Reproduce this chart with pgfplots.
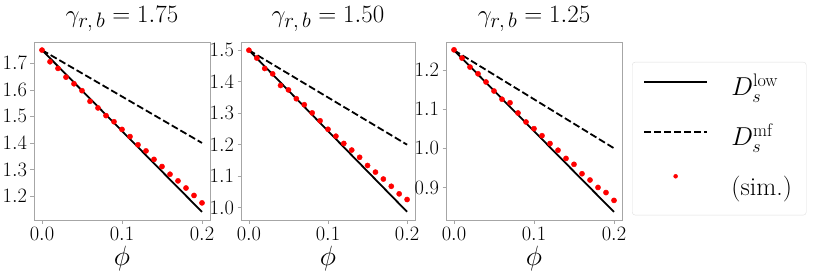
\RequirePackage{fix-cm}
\documentclass[border=0pt]{standalone}
\usepackage{pgfplots}
\pgfplotsset{compat=1.18}
\newcommand{\gam}{\gamma_{\hbox{\fontsize{21}{21}\selectfont$r,b$}}}
\begin{document}
\begin{tikzpicture}
\pgfplotsset{
  panel/.style={
    scale only axis,
    anchor=south west,
    height=178bp,
    xmin=-0.01, xmax=0.21,
    xtick={0,0.1,0.2},
    axis line style={gray!70},
    tick style={gray!70, line width=0.6bp},
    tick align=outside,
    major tick length=3.5bp,
    xtick pos=bottom, ytick pos=left,
    tick label style={font=\fontsize{20.5}{22}\selectfont},
    xticklabel style={/pgf/number format/.cd, fixed, fixed zerofill, precision=1},
    yticklabel style={/pgf/number format/.cd, fixed, fixed zerofill, precision=1},
    xlabel={$\phi$},
    xlabel style={font=\fontsize{28}{30}\selectfont,
      at={(axis description cs:0.5,0)}, anchor=north, yshift=-23bp},
    title style={font=\fontsize{25}{28}\selectfont,
      at={(axis description cs:0.5,1)}, anchor=base, yshift=14bp},
  },
  low/.style={black, line width=1.8bp},
  mf/.style={black, line width=1.8bp, dash pattern=on 7bp off 3bp},
  sim/.style={only marks, mark=*, mark size=2.6bp, color=red, mark options={draw=red, fill=red}},
  lineleg/.style={legend image code/.code={\draw[##1] (0bp,7bp) -- (63bp,7bp);}},
  dotleg/.style={legend image code/.code={\draw[##1, mark size=2bp] plot coordinates {(31.5bp,12bp)};}},
}
\useasboundingbox (0,0) rectangle (830bp,277bp);

% gamma = 1.75
\begin{axis}[panel, at={(34bp,57bp)}, width=176bp,
  ymin=1.1095, ymax=1.7805, ytick={1.2,1.3,1.4,1.5,1.6,1.7},
  title={$\gam = 1.75$}]
\addplot[low] coordinates {(0,1.75) (0.2,1.14)};
\addplot[mf] coordinates {(0,1.75) (0.2,1.40)};
\addplot[sim] coordinates {
  (0.00,1.750) (0.01,1.706) (0.02,1.681) (0.03,1.648) (0.04,1.623)
  (0.05,1.597) (0.06,1.557) (0.07,1.532) (0.08,1.503) (0.09,1.480)
  (0.10,1.451) (0.11,1.424) (0.12,1.393) (0.13,1.370) (0.14,1.338)
  (0.15,1.311) (0.16,1.282) (0.17,1.257) (0.18,1.230) (0.19,1.202)
  (0.20,1.174)};
\end{axis}

% gamma = 1.50
\begin{axis}[panel, at={(241bp,57bp)}, width=174bp,
  ymin=0.961, ymax=1.526, ytick={1.0,1.1,1.2,1.3,1.4,1.5},
  title={$\gam = 1.50$}]
\addplot[low] coordinates {(0,1.50) (0.2,0.987)};
\addplot[mf] coordinates {(0,1.50) (0.2,1.20)};
\addplot[sim] coordinates {
  (0.00,1.500) (0.01,1.475) (0.02,1.442) (0.03,1.425) (0.04,1.388)
  (0.05,1.374) (0.06,1.346) (0.07,1.327) (0.08,1.301) (0.09,1.276)
  (0.10,1.249) (0.11,1.227) (0.12,1.204) (0.13,1.183) (0.14,1.160)
  (0.15,1.134) (0.16,1.113) (0.17,1.091) (0.18,1.068) (0.19,1.044)
  (0.20,1.026)};
\end{axis}

% gamma = 1.25
\begin{axis}[panel, at={(446bp,57bp)}, width=176bp,
  ymin=0.817, ymax=1.271, ytick={0.9,1.0,1.1,1.2},
  title={$\gam = 1.25$},
  legend style={at={(1.057,0.888)}, anchor=north west,
    draw=gray!25, rounded corners=3bp,
    font=\fontsize{26}{28}\selectfont,
    inner xsep=11bp, inner ysep=8.5bp, row sep=13bp, column sep=20bp,
    nodes={text height=22bp, text depth=8bp, inner sep=3.33bp}},
  legend cell align=left]
\addplot[low, lineleg] coordinates {(0,1.25) (0.2,0.8375)};
\addlegendentry{$D_s^{\mathrm{low}}$}
\addplot[mf, lineleg] coordinates {(0,1.25) (0.2,1.00)};
\addlegendentry{$D_s^{\mathrm{mf}}$}
\addplot[sim, dotleg] coordinates {
  (0.00,1.251) (0.01,1.230) (0.02,1.207) (0.03,1.190) (0.04,1.169)
  (0.05,1.146) (0.06,1.125) (0.07,1.116) (0.08,1.090) (0.09,1.067)
  (0.10,1.050) (0.11,1.032) (0.12,1.012) (0.13,0.995) (0.14,0.974)
  (0.15,0.959) (0.16,0.935) (0.17,0.919) (0.18,0.900) (0.19,0.887)
  (0.20,0.867)};
\addlegendentry{(sim.)}
\end{axis}
\end{tikzpicture}
\end{document}
